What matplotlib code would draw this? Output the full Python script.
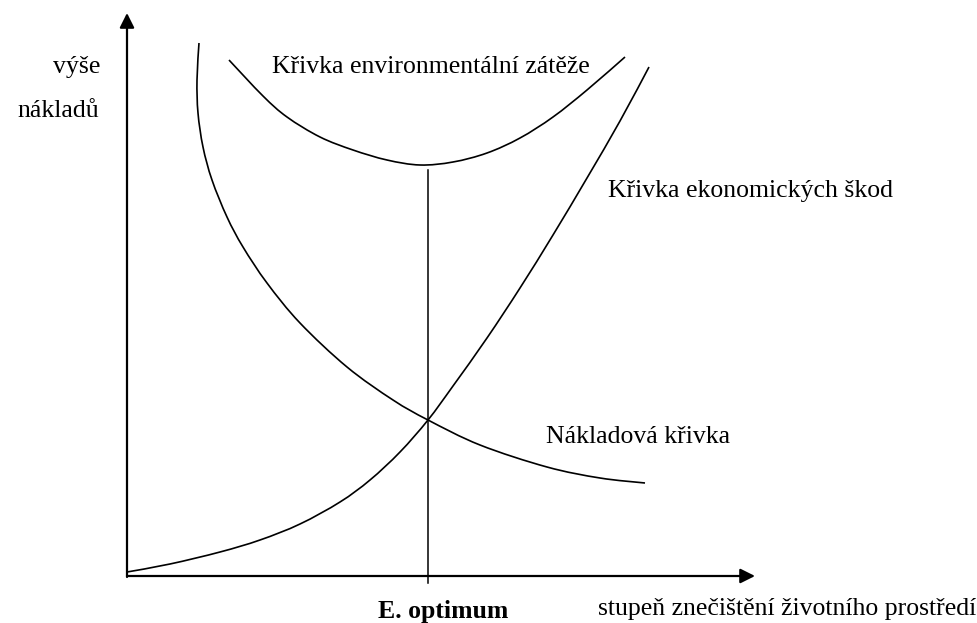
import matplotlib
matplotlib.use("Agg")
import matplotlib.pyplot as plt
from matplotlib.path import Path
from matplotlib.patches import PathPatch

# schematic, in picture units (x to the right, y downward)
cost_x = [199, 197, 198, 203, 212, 227, 243, 267, 300, 347, 393, 428, 480, 547, 600, 645]
cost_y = [43, 80, 113, 147, 180, 217, 247, 283, 323, 367, 400, 420, 445, 467, 478, 483]

env_x = [229, 263, 287, 320, 353, 387, 420, 453, 487, 520, 553, 587, 625]
env_y = [60, 96, 117, 137, 150, 160, 165, 162, 153, 138, 117, 90, 57]

damage_x = [127, 170, 220, 260, 300, 340, 370, 400, 428, 453, 487, 520, 553, 587, 620, 649]
damage_y = [572, 564, 552, 540, 524, 502, 480, 452, 420, 386, 338, 288, 235, 178, 121, 67]

optimum_x = 428
optimum_top = 170

x_axis = (127, 755)
y_axis = (577, 13)

labels = {
    "Křivka environmentální zátěže": (272, 73),
    "Křivka ekonomických škod": (608, 197),
    "Nákladová křivka": (546, 443),
    "stupeň znečištění životního prostředí": (598, 615),
}

font1 = {"family": "Liberation Serif", "color": "black", "size": 18.5}


def smooth_path(xs, ys):
    # catmull-rom through the read points, drawn as cubic beziers
    pts = list(zip(xs, ys))
    verts = [pts[0]]
    codes = [Path.MOVETO]
    for i in range(len(pts) - 1):
        p0 = pts[i - 1] if i > 0 else pts[i]
        p1 = pts[i]
        p2 = pts[i + 1]
        p3 = pts[i + 2] if i + 2 < len(pts) else pts[i + 1]
        c1 = (p1[0] + (p2[0] - p0[0]) / 6, p1[1] + (p2[1] - p0[1]) / 6)
        c2 = (p2[0] - (p3[0] - p1[0]) / 6, p2[1] - (p3[1] - p1[1]) / 6)
        verts += [c1, c2, p2]
        codes += [Path.CURVE4] * 3
    return Path(verts, codes)


fig = plt.figure(figsize=(9.77, 6.23), dpi=100)
ax = fig.add_axes([0, 0, 1, 1])
ax.set_xlim(0, 977)
ax.set_ylim(623, 0)
ax.axis("off")

# axes with arrow heads
ax.annotate("", xy=(x_axis[1], y_axis[0] - 1), xytext=(x_axis[0], y_axis[0] - 1),
            arrowprops=dict(arrowstyle="-|>", lw=1.6, color="black", mutation_scale=22, shrinkA=0, shrinkB=0))
ax.annotate("", xy=(x_axis[0], y_axis[1]), xytext=(x_axis[0], y_axis[0]),
            arrowprops=dict(arrowstyle="-|>", lw=1.6, color="black", mutation_scale=22, shrinkA=0, shrinkB=0))

for xs, ys in [(cost_x, cost_y), (env_x, env_y), (damage_x, damage_y)]:
    ax.add_patch(PathPatch(smooth_path(xs, ys), fill=False, edgecolor="black", lw=1.2, capstyle="butt"))

ax.plot([optimum_x, optimum_x], [optimum_top, y_axis[0] + 6], color="black", lw=1.1)

for txt, (tx, ty) in labels.items():
    ax.text(tx, ty, txt, fontdict=font1, ha="left", va="baseline")

ax.text(100, 73, "výše", fontdict=font1, ha="right", va="baseline")
ax.text(99, 117, "nákladů", fontdict=font1, ha="right", va="baseline")
ax.text(378, 618, "E. optimum", fontdict=font1, ha="left", va="baseline", fontweight="bold")

plt.savefig("out.png", dpi=100)
